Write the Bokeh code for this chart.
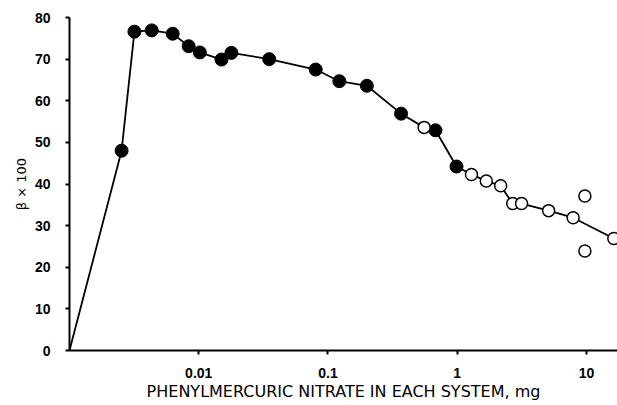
from bokeh.plotting import figure
from bokeh.models import FixedTicker, Range1d
from bokeh.embed import file_html
from bokeh.resources import INLINE

# --- data ---
filled_x = [0.00253, 0.00318, 0.00433, 0.00629, 0.00836, 0.0102, 0.0150, 0.0179,
            0.0351, 0.0804, 0.1225, 0.200, 0.368, 0.679, 0.988]
filled_y = [48.0, 76.6, 76.9, 76.1, 73.1, 71.6, 69.9, 71.5,
            70.0, 67.5, 64.7, 63.6, 56.9, 52.9, 44.2]

open_x = [0.555, 1.29, 1.68, 2.17, 2.69, 3.15, 5.10, 7.89, 9.73, 9.73, 16.3]
open_y = [53.6, 42.3, 40.7, 39.6, 35.3, 35.3, 33.6, 31.9, 37.1, 23.9, 26.9]
open_on_curve = [True, True, True, True, True, True, True, True, False, False, True]

origin_x = [0.001]
origin_y = [0.0]

x_tick_values = [0.01, 0.1, 1, 10]
x_tick_labels = ["0.01", "0.1", "1", "10"]
y_tick_values = [0, 10, 20, 30, 40, 50, 60, 70, 80]

x_label = "PHENYLMERCURIC NITRATE IN EACH SYSTEM, mg"
y_label = "\u03b2 \u00d7 100"

# curve through the origin and all points except the scattered ones
curve = list(zip(origin_x, origin_y)) + list(zip(filled_x, filled_y)) + \
    [(x, y) for x, y, c in zip(open_x, open_y, open_on_curve) if c]
curve.sort(key=lambda t: t[0])
curve_x = [c[0] for c in curve]
curve_y = [c[1] for c in curve]

p = figure(width=617, height=405, x_axis_type="log",
           x_range=Range1d(0.001, 17.4), y_range=Range1d(0, 80),
           output_backend="svg", toolbar_location=None,
           min_border_left=69, min_border_right=0, min_border_top=17, min_border_bottom=55)

p.outline_line_color = None
p.xgrid.grid_line_color = None
p.ygrid.grid_line_color = None
p.background_fill_color = "white"
p.border_fill_color = "white"

p.line(curve_x, curve_y, line_color="black", line_width=1.8)
p.scatter(filled_x, filled_y, size=13, fill_color="black", line_color="black", line_width=1)
p.scatter(open_x, open_y, size=12, fill_color="white", line_color="black", line_width=1.5)

for ax in (p.xaxis[0], p.yaxis[0]):
    ax.axis_line_width = 2
    ax.axis_line_color = "black"
    ax.major_tick_line_width = 2
    ax.major_tick_line_color = "black"
    ax.major_tick_in = 0
    ax.major_tick_out = 4
    ax.minor_tick_line_color = None
    ax.major_label_text_font = "Liberation Sans"
    ax.major_label_text_font_style = "bold"
    ax.major_label_text_font_size = "14px"
    ax.major_label_text_color = "black"
    ax.axis_label_text_font_style = "normal"
    ax.axis_label_text_color = "black"

p.xaxis.ticker = FixedTicker(ticks=x_tick_values)
p.xaxis.major_label_overrides = {v: l for v, l in zip(x_tick_values, x_tick_labels)}
p.xaxis.major_label_standoff = 13
p.xaxis.axis_label = x_label
p.xaxis.axis_label_text_font = "DejaVu Sans"
p.xaxis.axis_label_text_font_size = "16px"
p.xaxis.axis_label_standoff = 1

p.yaxis.ticker = FixedTicker(ticks=y_tick_values)
p.yaxis.major_label_standoff = 15
p.yaxis.axis_label = y_label
p.yaxis.axis_label_text_font = "DejaVu Sans"
p.yaxis.axis_label_text_font_size = "13px"
p.yaxis.axis_label_standoff = 3

open("out.html", "w").write(file_html(p, INLINE))
